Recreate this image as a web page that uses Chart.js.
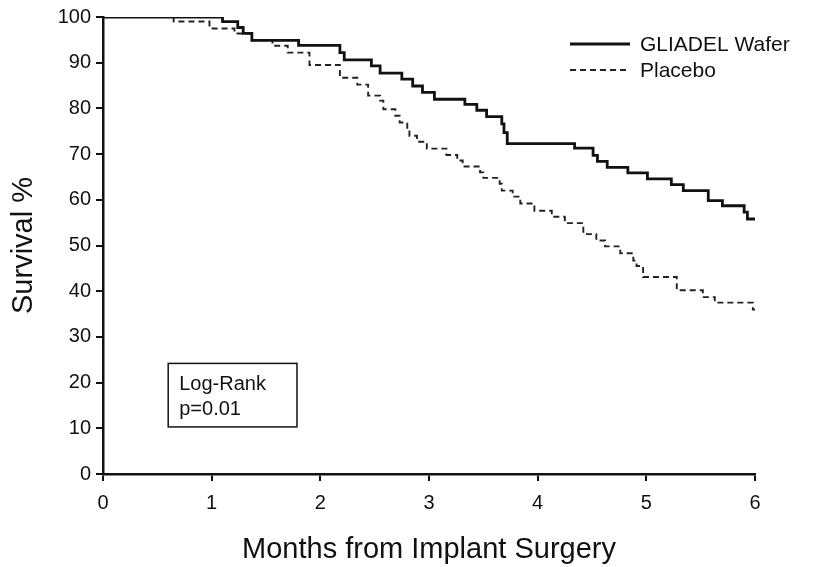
<!DOCTYPE html>
<html>
<head>
<meta charset="utf-8">
<script src="https://cdn.jsdelivr.net/npm/chart.js@4/dist/chart.umd.min.js"></script>
<style>
  html, body { margin: 0; padding: 0; background: #fff; }
  #wrap { width: 817px; height: 567px; position: relative; }
</style>
</head>
<body>
<div id="wrap"><canvas id="c" width="817" height="567"></canvas></div>
<script>
// ---- Data ----
const seriesLabels = ["GLIADEL Wafer", "Placebo"];

// Kaplan–Meier step points: month of event and survival % after it
const gliadelMonths = [0, 1.10, 1.24, 1.29, 1.37, 1.80, 2.18, 2.22, 2.47, 2.55, 2.75, 2.85, 2.94, 3.05, 3.33, 3.44, 3.53, 3.67, 3.69, 3.72, 4.34, 4.51, 4.55, 4.64, 4.83, 5.01, 5.23, 5.34, 5.57, 5.70, 5.90, 5.93, 6.00];
const gliadelSurvival = [100, 99.0, 97.7, 96.4, 94.9, 93.8, 92.2, 90.6, 89.3, 87.7, 86.4, 84.9, 83.5, 82.0, 80.9, 79.6, 78.2, 76.6, 74.7, 72.3, 71.3, 69.7, 68.4, 67.1, 65.9, 64.6, 63.3, 62.0, 59.8, 58.7, 57.3, 55.8, 55.8];

const placeboMonths = [0, 0.65, 0.98, 1.21, 1.37, 1.56, 1.70, 1.90, 2.18, 2.34, 2.44, 2.55, 2.58, 2.69, 2.73, 2.80, 2.82, 2.89, 2.98, 3.16, 3.26, 3.31, 3.47, 3.50, 3.65, 3.67, 3.77, 3.84, 3.97, 4.13, 4.25, 4.42, 4.54, 4.62, 4.76, 4.88, 4.91, 4.97, 5.28, 5.52, 5.63, 5.98, 6.00];
const placeboSurvival = [100, 99.0, 97.5, 96.4, 94.9, 93.7, 92.2, 89.5, 86.7, 85.2, 82.8, 81.7, 79.8, 78.4, 76.9, 75.5, 74.0, 72.7, 71.2, 69.8, 68.6, 67.3, 66.0, 64.8, 63.5, 62.0, 60.7, 59.2, 57.6, 56.3, 54.9, 52.5, 51.1, 49.8, 48.3, 46.7, 45.5, 43.1, 40.2, 38.7, 37.5, 36.0, 36.0];

const xTicks = [0, 1, 2, 3, 4, 5, 6];
const yTicks = [0, 10, 20, 30, 40, 50, 60, 70, 80, 90, 100];
const xTitle = "Months from Implant Surgery";
const yTitle = "Survival %";
const noteLines = ["Log-Rank", "p=0.01"];

// ---- Build ----
const FONT = "'Liberation Sans', Arial, Helvetica, sans-serif";
const toPoints = (xs, ys) => xs.map((x, i) => ({ x: x, y: ys[i] }));

const annotationPlugin = {
  id: 'kmExtras',
  afterDraw(chart) {
    const ctx = chart.ctx;
    const xs = chart.scales.x, ys = chart.scales.y;
    ctx.save();
    // legend (from dataset labels & styles)
    const legendX0 = 570, legendX1 = 630, textX = 640;
    const rowsY = [44, 70];
    chart.data.datasets.forEach((ds, i) => {
      ctx.beginPath();
      ctx.strokeStyle = ds.borderColor;
      ctx.lineWidth = ds.borderWidth;
      ctx.setLineDash(ds.borderDash || []);
      ctx.moveTo(legendX0, rowsY[i]);
      ctx.lineTo(legendX1, rowsY[i]);
      ctx.stroke();
      ctx.setLineDash([]);
      ctx.fillStyle = '#111';
      ctx.font = "21px " + FONT;
      ctx.textBaseline = 'middle';
      ctx.textAlign = 'left';
      ctx.fillText(ds.label, textX, rowsY[i] + 1);
    });
    // Log-rank box
    const bx0 = xs.getPixelForValue(0.60), bx1 = xs.getPixelForValue(1.785);
    const by0 = ys.getPixelForValue(24.2), by1 = ys.getPixelForValue(10.3);
    ctx.strokeStyle = '#111';
    ctx.lineWidth = 1.5;
    ctx.strokeRect(bx0, by0, bx1 - bx0, by1 - by0);
    ctx.fillStyle = '#111';
    ctx.font = "20px " + FONT;
    ctx.textBaseline = 'alphabetic';
    ctx.fillText(noteLines[0], bx0 + 11, by0 + 27);
    ctx.fillText(noteLines[1], bx0 + 11, by0 + 52);
    ctx.restore();
  }
};

new Chart(document.getElementById('c'), {
  type: 'line',
  data: {
    datasets: [
      {
        label: seriesLabels[0],
        data: toPoints(gliadelMonths, gliadelSurvival),
        stepped: 'before',
        borderColor: '#111',
        borderWidth: 2.8,
        pointRadius: 0,
        fill: false
      },
      {
        label: seriesLabels[1],
        data: toPoints(placeboMonths, placeboSurvival),
        stepped: 'before',
        borderColor: '#222',
        borderWidth: 1.9,
        borderDash: [6, 4],
        pointRadius: 0,
        fill: false
      }
    ]
  },
  options: {
    responsive: false,
    animation: false,
    devicePixelRatio: 1,
    layout: { padding: { left: 0, right: 62, top: 16, bottom: 0 } },
    plugins: { legend: { display: false }, tooltip: { enabled: false } },
    scales: {
      x: {
        type: 'linear',
        min: 0, max: 6,
        afterFit(s) { s.height = 93; },
        afterBuildTicks(s) { s.ticks = xTicks.map(v => ({ value: v })); },
        ticks: { color: '#111', font: { family: FONT, size: 20 }, padding: 10, maxRotation: 0 },
        grid: { display: true, drawOnChartArea: false, drawTicks: true, tickLength: 7, color: '#111', lineWidth: 2 },
        border: { display: true, color: '#111', width: 2.5 },
        title: { display: true, text: xTitle, color: '#111', font: { family: FONT, size: 29 }, padding: { top: 0, bottom: 0 } }
      },
      y: {
        min: 0, max: 100,
        afterFit(s) { s.width = 103; },
        afterBuildTicks(s) { s.ticks = yTicks.map(v => ({ value: v })); },
        ticks: { color: '#111', font: { family: FONT, size: 20 }, padding: 5 },
        grid: { display: true, drawOnChartArea: false, drawTicks: true, tickLength: 7, color: '#111', lineWidth: 2 },
        border: { display: true, color: '#111', width: 2.5 },
        title: { display: true, text: yTitle, color: '#111', font: { family: FONT, size: 29 }, padding: { top: 7, bottom: 0 } }
      }
    }
  },
  plugins: [annotationPlugin]
});
</script>
</body>
</html>
